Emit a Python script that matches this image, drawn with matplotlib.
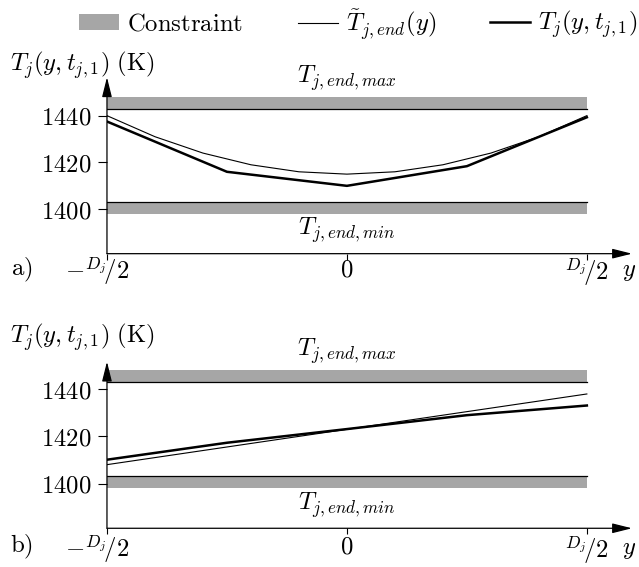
import matplotlib
matplotlib.use("Agg")
import numpy as np
from matplotlib import pyplot as plt
from matplotlib.lines import Line2D
from matplotlib.patches import Patch

plt.rcParams['mathtext.fontset'] = 'cm'
plt.rcParams['font.family'] = 'serif'

# positions along the slab, in units of D_j
y_pos = [-0.5, -0.25, 0.0, 0.25, 0.5]
y_fine = [-0.5, -0.4, -0.3, -0.2, -0.1, 0.0, 0.1, 0.2, 0.3, 0.4, 0.5]

# panel a
a_target = [1440, 1431, 1424, 1419, 1416, 1415, 1416, 1419, 1424, 1431, 1440]
a_actual = [1437.5, 1416, 1410, 1418.4, 1439.3]
# panel b
b_target = [1408, 1415.5, 1423, 1430.5, 1438]
b_actual = [1410.1, 1417.3, 1423.1, 1429, 1433.1]

T_max = 1443
T_min = 1403
band = 5
yticks = [1400, 1420, 1440]
gray = '#a6a6a6'
fs = 17.8


def draw_panel(ax, xs_t, target, xs_a, actual, ytop, tag, ylab_y, tick_off):
    ax.set_xlim(-0.5, 0.594)
    ax.set_ylim(1381, ytop)
    for s in ax.spines.values():
        s.set_visible(False)
    # constraint bands
    ax.fill_between([-0.5, 0.5], T_max, T_max + band, color=gray, lw=0)
    ax.fill_between([-0.5, 0.5], T_min - band, T_min, color=gray, lw=0)
    ax.plot([-0.5, 0.5], [T_max, T_max], color='black', lw=0.9)
    ax.plot([-0.5, 0.5], [T_min, T_min], color='black', lw=0.9)
    ax.plot(xs_t, target, color='black', lw=0.8)
    ax.plot(xs_a, actual, color='black', lw=1.8)
    # arrow axes
    astyle = '-|>,head_length=1.2,head_width=0.3'
    ax.annotate('', xy=(0, 1), xytext=(0, 0), xycoords='axes fraction',
                arrowprops=dict(arrowstyle=astyle, color='black', lw=0.9,
                                mutation_scale=10, shrinkA=0, shrinkB=0))
    ax.annotate('', xy=(1, 0), xytext=(0, 0), xycoords='axes fraction',
                arrowprops=dict(arrowstyle=astyle, color='black', lw=0.9,
                                mutation_scale=10, shrinkA=0, shrinkB=0))
    ax.set_yticks(yticks, labels=[f'${t}$' for t in yticks], fontsize=fs)
    ax.tick_params(axis='y', length=6.5, width=0.8, pad=5)
    ax.set_xticks([-0.5, 0, 0.5], labels=['', '', ''])
    ax.tick_params(axis='x', length=4.5, width=0.8)
    tr = ax.get_xaxis_transform()
    kw = dict(xycoords=tr, textcoords='offset pixels', ha='center', va='center', fontsize=fs)
    ax.annotate(r'$-{}^{D_j}\!/2$', xy=(-0.52, 0), xytext=(0, -tick_off - 2), **kw)
    ax.annotate(r'$0$', xy=(0, 0), xytext=(0, -tick_off), **kw)
    ax.annotate(r'${}^{D_j}\!/2$', xy=(0.5, 0), xytext=(0, -tick_off - 3), **kw)
    ax.annotate(r'$y$', xy=(0.5875, 0), xytext=(0, -tick_off - 2), **kw)
    ax.annotate(tag, xy=(-0.162, 0), xycoords='axes fraction', textcoords='offset pixels',
                xytext=(0, -tick_off), ha='center', va='center', fontsize=fs)
    ax.text(-0.185, ylab_y, r'$T_j(y,t_{j,1})\ (\mathrm{K})$', transform=ax.transAxes,
            ha='left', va='center', fontsize=fs)
    ax.text(0, T_max + band + 6, r'$T_{j,end,max}$', ha='center', va='baseline', fontsize=fs)
    ax.text(0, 1389, r'$T_{j,end,min}$', ha='center', va='baseline', fontsize=fs)


fig = plt.figure(figsize=(6.39, 5.67), dpi=100)
ax_a = fig.add_axes([0.1674, 0.5526, 0.8216, 0.3111])
ax_b = fig.add_axes([0.1674, 0.0683, 0.8216, 0.2938])

draw_panel(ax_a, y_fine, a_target, y_pos, a_actual, 1456.4, r'$\mathrm{a)}$', 1.069, 16)
draw_panel(ax_b, y_pos, b_target, y_pos, b_actual, 1451.7, r'$\mathrm{b)}$', 1.148, 19)

# legend, one entry at a time so the gaps follow the reference
handles = [Patch(facecolor=gray, edgecolor='none'),
           Line2D([], [], color='black', lw=0.8),
           Line2D([], [], color='black', lw=1.8)]
labels = [r'$\mathrm{Constraint}$', r'$\tilde{T}_{j,end}(y)$', r'$T_j(y,t_{j,1})$']
starts = [79, 298, 490]
for h, lab, x0 in zip(handles, labels, starts):
    fig.legend([h], [lab], loc='center left', bbox_to_anchor=(x0 / 639, 0.957),
               frameon=False, fontsize=fs, handlelength=1.6, handleheight=0.6,
               handletextpad=0.35, borderpad=0, borderaxespad=0)

fig.savefig('out.png', dpi=100)
